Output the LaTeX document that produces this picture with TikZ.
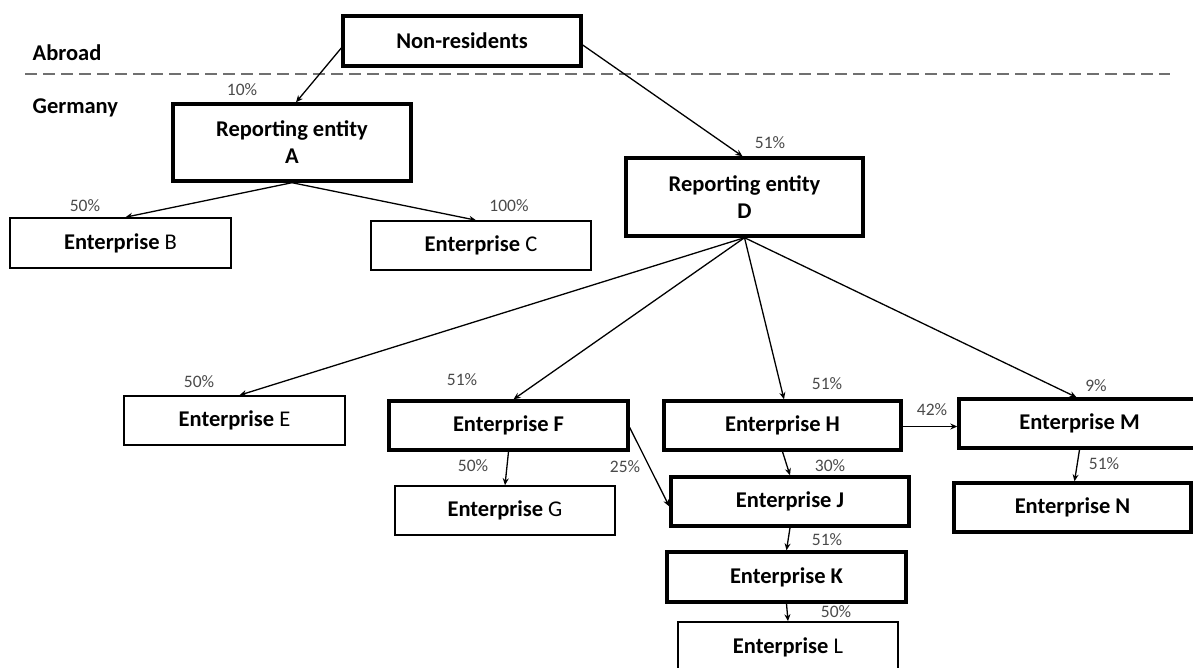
\documentclass[tikz,border=0pt]{standalone}
\usepackage{fontspec}
\setmainfont{Carlito}
\usetikzlibrary{arrows.meta,calc}
\definecolor{pctgray}{HTML}{4A4A4A}
\definecolor{dashgray}{HTML}{707070}
\begin{document}
\begin{tikzpicture}[x=1pt,y=-1pt,
  thickbox/.style={draw=black,line width=3.4pt,inner sep=0pt,align=center,
    font=\fontsize{22.5}{27}\selectfont\bfseries},
  thinbox/.style={draw=black,line width=1.6pt,inner sep=0pt,align=center,
    font=\fontsize{22.5}{27}\selectfont},
  pct/.style={text=pctgray,font=\fontsize{17.5}{20}\selectfont,inner sep=0pt},
  region/.style={font=\fontsize{22.5}{27}\selectfont\bfseries,inner sep=0pt,anchor=west},
  conn/.style={draw=black,line width=1.3pt,-{Stealth[length=7pt,width=6pt]}},
  divider/.style={draw=dashgray,line width=2.2pt,dash pattern=on 12pt off 6pt}
]
\useasboundingbox (0,0) rectangle (1193,668);
\clip (0,0) rectangle (1193,668);

% region labels and divider
\node[region] (abroad) at (32.5,53) {Abroad};
\node[region] (germany) at (32.5,108) {Germany};
\coordinate (dl) at (25,74);
\coordinate (dr) at (1170,74);
\draw[divider] (dl) -- (dr);

% boxes
\node[thickbox,minimum width=238pt,minimum height=50pt] (NR) at (462,41) {Non-residents};
\node[thickbox,minimum width=238pt,minimum height=77pt] (A) at (292,142.5) {Reporting entity\\A};
\node[thickbox,minimum width=237pt,minimum height=78pt] (D) at (744.5,197) {Reporting entity\\D};
\node[thinbox,minimum width=221pt,minimum height=50pt] (B) at (120.5,243) {\textbf{Enterprise} B};
\node[thinbox,minimum width=220pt,minimum height=49pt] (C) at (481,245.5) {\textbf{Enterprise} C};
\node[thinbox,minimum width=221pt,minimum height=49pt] (E) at (234.5,420.5) {\textbf{Enterprise} E};
\node[thickbox,minimum width=239pt,minimum height=49pt] (F) at (508.5,425.5) {Enterprise F};
\node[thinbox,minimum width=220pt,minimum height=49pt] (G) at (505,510.5) {\textbf{Enterprise} G};
\node[thickbox,minimum width=237pt,minimum height=49pt] (H) at (782.5,425.5) {Enterprise H};
\node[thickbox,minimum width=241pt,minimum height=49pt] (M) at (1079.5,423.5) {Enterprise M};
\node[thickbox,minimum width=238pt,minimum height=49pt] (J) at (790,501.5) {Enterprise J};
\node[thickbox,minimum width=237pt,minimum height=49pt] (N) at (1072.5,507.5) {Enterprise N};
\node[thickbox,minimum width=239pt,minimum height=50pt] (K) at (786.5,577) {Enterprise K};
\node[thinbox,minimum width=220pt,minimum height=50pt] (L) at (788,647) {\textbf{Enterprise} L};

% connectors
\draw[conn] ([yshift=-7pt]NR.west) -- ([xshift=4pt]A.north);
\draw[conn] ([yshift=-4pt]NR.east) -- ([xshift=-2pt]D.north);
\draw[conn] (A.south) -- ([xshift=5pt]B.north);
\draw[conn] (A.south) -- ([xshift=-5pt]C.north);
\draw[conn] (D.south) -- ([xshift=5pt]E.north);
\draw[conn] (D.south) -- ([xshift=5pt]F.north);
\draw[conn] (D.south) -- ([xshift=1.5pt]H.north);
\draw[conn] (D.south) -- ([xshift=-3pt]M.north);
\draw[conn] ([yshift=-1pt]H.east) -- ([yshift=-1pt]H.east -| M.west);
\draw[conn] (F.south) -- (G.north);
\draw[conn] ([yshift=-2pt]F.east) -- ([yshift=-5pt]J.west);
\draw[conn] (H.south) -- (J.north);
\draw[conn] (M.south) -- ([xshift=2pt]N.north);
\draw[conn] (J.south) -- (K.north);
\draw[conn] (K.south) -- (L.north);

% percentage labels
\node[pct] (p1) at (242,90) {10\%};
\node[pct] (p2) at (770,143) {51\%};
\node[pct] (p3) at (85,206) {50\%};
\node[pct] (p4) at (509,206) {100\%};
\node[pct] (p5) at (199,382) {50\%};
\node[pct] (p6) at (462,380) {51\%};
\node[pct] (p7) at (827,384) {51\%};
\node[pct] (p8) at (1096,386) {9\%};
\node[pct] (p9) at (932,410) {42\%};
\node[pct] (p10) at (473,466) {50\%};
\node[pct] (p11) at (625,467) {25\%};
\node[pct] (p12) at (830,466) {30\%};
\node[pct] (p13) at (1104,464) {51\%};
\node[pct] (p14) at (827,540) {51\%};
\node[pct] (p15) at (836,612) {50\%};
\end{tikzpicture}
\end{document}
